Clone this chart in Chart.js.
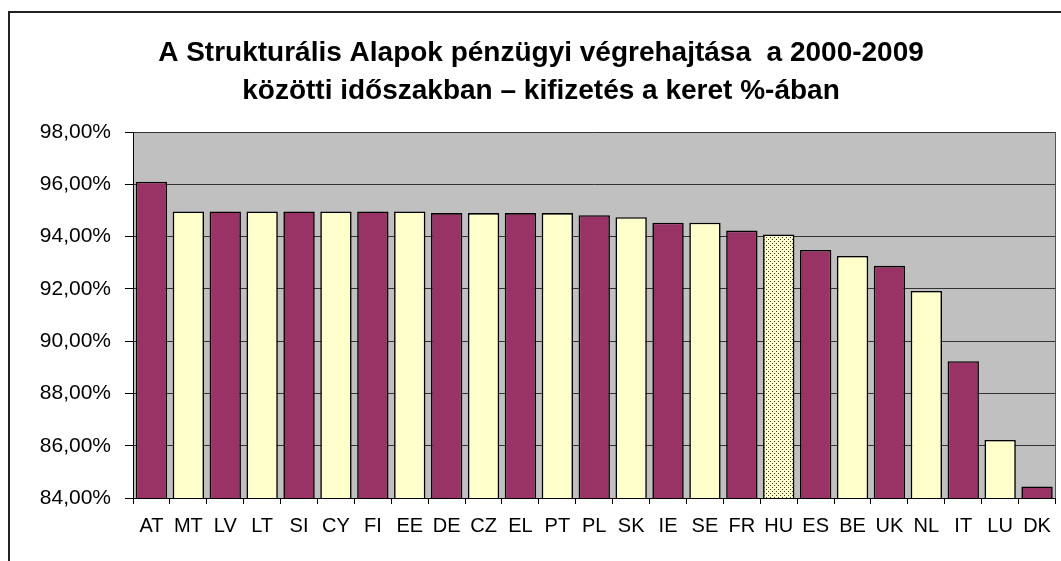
<!DOCTYPE html>
<html>
<head>
<meta charset="utf-8">
<script src="https://cdn.jsdelivr.net/npm/chart.js@4.4.1/dist/chart.umd.min.js"></script>
<style>
  html, body { margin: 0; padding: 0; background: #fff; }
  body { width: 1061px; height: 561px; position: relative; overflow: hidden; }
  #frame { position: absolute; left: 8px; top: 11px; width: 1060px; height: 560px;
           border-top: 2px solid #222; border-left: 2px solid #222; }
  #wrap { position: absolute; left: 10px; top: 13px; width: 1051px; height: 548px; }
</style>
</head>
<body>
<div id="frame"></div>
<div id="wrap"><canvas id="c"></canvas></div>
<script>
const titleLines = ["A Strukturális Alapok pénzügyi végrehajtása  a 2000-2009", "közötti időszakban – kifizetés a keret %-ában"];
const categories = ["AT","MT","LV","LT","SI","CY","FI","EE","DE","CZ","EL","PT","PL","SK","IE","SE","FR","HU","ES","BE","UK","NL","IT","LU","DK"];
const values = [96.10,94.96,94.96,94.96,94.96,94.96,94.96,94.96,94.90,94.90,94.90,94.90,94.82,94.74,94.53,94.53,94.23,94.08,93.49,93.26,92.88,91.92,89.23,86.22,84.44];
const barKinds = ["p","y","p","y","p","y","p","y","p","y","p","y","p","y","p","y","p","h","p","y","p","y","p","y","p"];
const yMin = 84, yMax = 98, yStep = 2;

const PURPLE = "#993366", YELLOW = "#FFFFCC", PLOT_BG = "#C0C0C0";

function makeDots() {
  const t = document.createElement("canvas");
  t.width = 4; t.height = 4;
  const g = t.getContext("2d");
  g.fillStyle = YELLOW; g.fillRect(0, 0, 4, 4);
  g.fillStyle = "#333";
  g.fillRect(0, 0, 1, 1); g.fillRect(2, 2, 1, 1);
  return g.createPattern(t, "repeat");
}
const dotPattern = makeDots();
const fills = barKinds.map(k => k === "p" ? PURPLE : (k === "y" ? YELLOW : dotPattern));

const plotBg = {
  id: "plotBg",
  beforeDraw(chart) {
    const a = chart.chartArea, ctx = chart.ctx;
    ctx.save();
    ctx.fillStyle = PLOT_BG;
    ctx.fillRect(a.left, a.top, a.right - a.left, a.bottom - a.top);
    ctx.restore();
  },
  afterDraw(chart) {
    const a = chart.chartArea, ctx = chart.ctx;
    ctx.save();
    ctx.strokeStyle = "#555";
    ctx.lineWidth = 1;
    ctx.beginPath();
    ctx.moveTo(Math.round(a.right) + 0.5, a.top);
    ctx.lineTo(Math.round(a.right) + 0.5, a.bottom);
    ctx.stroke();
    ctx.restore();
  }
};

new Chart(document.getElementById("c"), {
  type: "bar",
  data: {
    labels: categories,
    datasets: [{
      data: values,
      backgroundColor: fills,
      borderColor: "#000",
      borderWidth: 1.6,
      borderSkipped: false,
      barPercentage: 0.85,
      categoryPercentage: 1.0
    }]
  },
  options: {
    responsive: true,
    maintainAspectRatio: false,
    animation: false,
    layout: { padding: { left: 14, right: 3, top: 0, bottom: 0 } },
    plugins: {
      legend: { display: false },
      tooltip: { enabled: false },
      title: {
        display: true,
        text: titleLines,
        color: "#000",
        font: { family: "'Liberation Sans', Arial, sans-serif", size: 28, weight: "bold", lineHeight: "38px" },
        padding: { top: 21, bottom: 22 }
      }
    },
    scales: {
      x: {
        offset: true,
        grid: { display: true, offset: true, drawOnChartArea: false, tickLength: 6, tickColor: "#000", tickWidth: 1 },
        border: { display: true, color: "#000", width: 1 },
        ticks: { color: "#000", padding: 10, maxRotation: 0, autoSkip: false,
                 font: { family: "'Liberation Sans', Arial, sans-serif", size: 20 } },
        afterFit(s) { s.height = 63; }
      },
      y: {
        min: yMin, max: yMax,
        grid: { color: "#333", lineWidth: 1, tickLength: 8, tickColor: "#000" },
        border: { display: true, color: "#000", width: 1 },
        ticks: { stepSize: yStep, color: "#000", padding: 14,
                 font: { family: "'Liberation Sans', Arial, sans-serif", size: 21 },
                 callback: v => v.toFixed(2).replace(".", ",") + "%" },
        afterFit(s) { s.width = 109; }
      }
    }
  },
  plugins: [plotBg]
});
</script>
</body>
</html>
